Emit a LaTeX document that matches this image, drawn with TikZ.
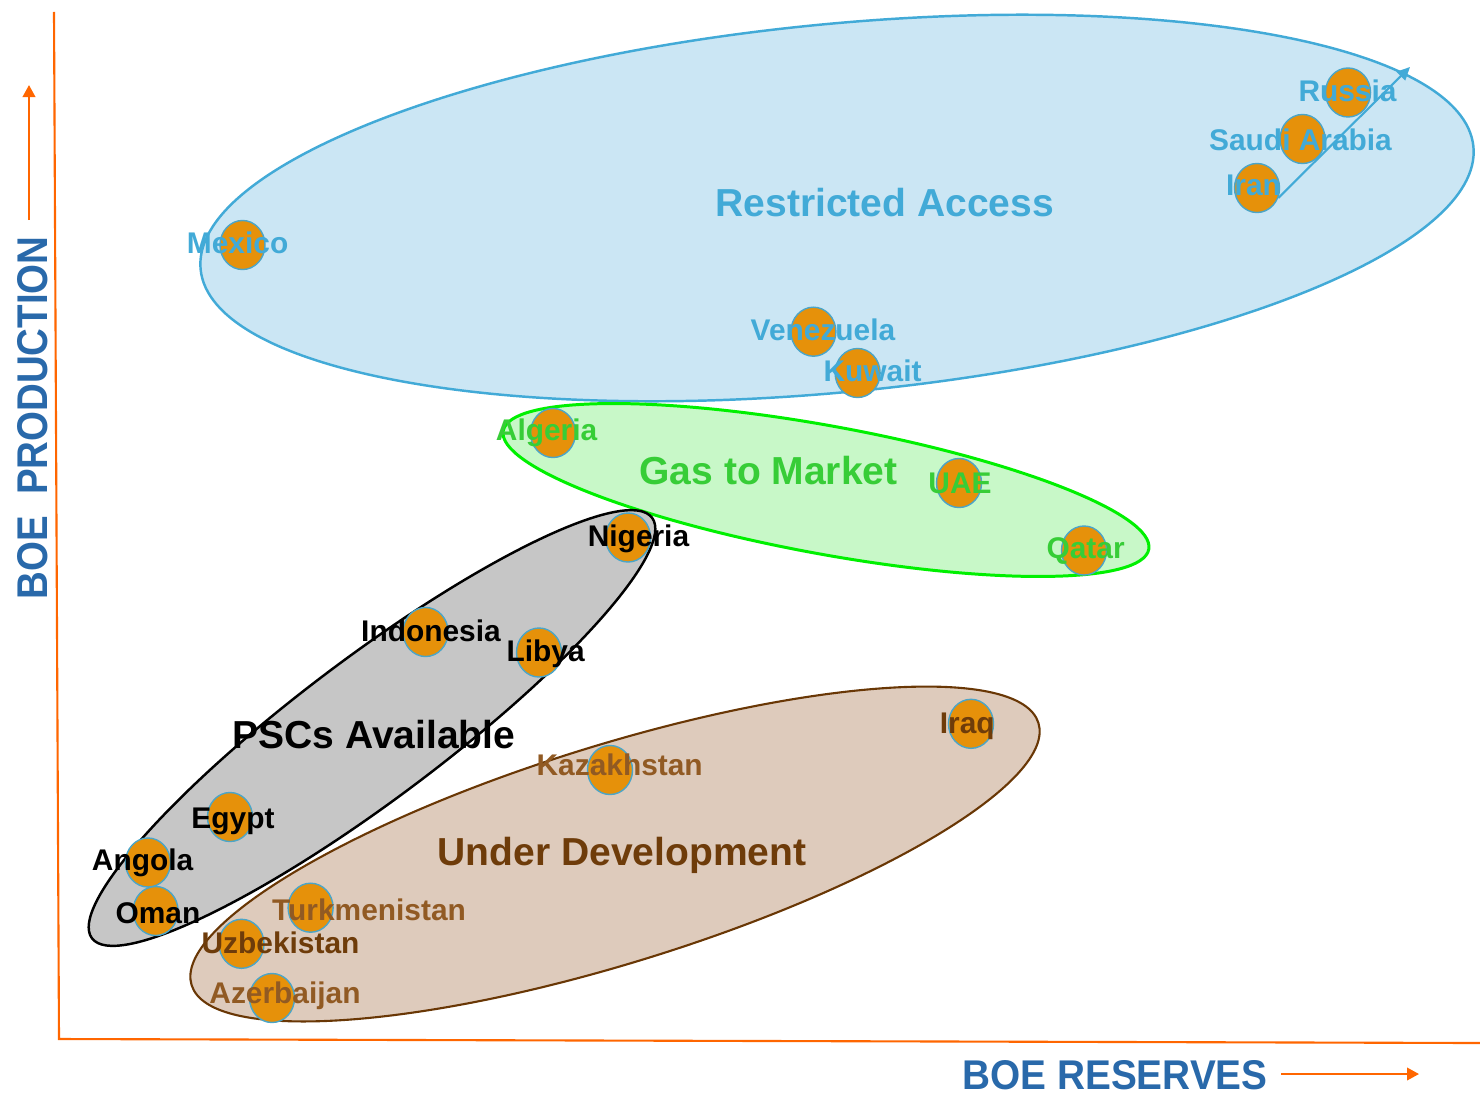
\documentclass[tikz,border=0pt]{standalone}
\usepackage{fontspec}
\setmainfont{Liberation Sans}
\usetikzlibrary{shapes.geometric,arrows.meta}
\definecolor{axisor}{RGB}{255,102,0}
\definecolor{axisblue}{RGB}{41,105,170}
\definecolor{rablue}{RGB}{66,170,215}
\definecolor{rafill}{RGB}{203,230,244}
\definecolor{gmline}{RGB}{0,240,0}
\definecolor{gmtext}{RGB}{55,205,55}
\definecolor{gmfill}{RGB}{200,248,200}
\definecolor{pscfill}{RGB}{198,198,198}
\definecolor{udline}{RGB}{105,55,5}
\definecolor{udtext}{RGB}{110,60,10}
\definecolor{udlight}{RGB}{145,90,35}
\definecolor{udfill}{RGB}{222,203,188}
\definecolor{dotfill}{RGB}{230,145,10}
\definecolor{dotline}{RGB}{75,165,200}
\begin{document}
\begin{tikzpicture}[x=0.01cm, y=-0.01cm,
  dot/.style={ellipse, draw=dotline, line width=0.4pt, fill=dotfill, minimum width=0.45cm, minimum height=0.49cm, inner sep=0pt},
  lab/.style={anchor=base, inner sep=0pt, font=\fontsize{8.5pt}{10pt}\selectfont\bfseries},
  ttl/.style={anchor=base, inner sep=0pt, font=\fontsize{11.1pt}{13pt}\selectfont\bfseries},
  axisline/.style={axisor, line width=0.6pt},
  axisarrow/.style={axisor, line width=0.6pt, -{Triangle[width=0.125cm,length=0.12cm]}},
  group/.style={line width=0.7pt}
]
\useasboundingbox (0,0) rectangle (1480,1094);

% group ellipses
\draw[group, draw=rablue, fill=rafill, rotate around={5.5:(837,208)}] (837,208) ellipse [x radius=6.39cm, y radius=1.84cm];
\draw[group, draw=gmline, line width=0.85pt, fill=gmfill, rotate around={-10.4:(826,490)}] (826,490) ellipse [x radius=3.28cm, y radius=0.64cm];
\draw[group, draw=udline, line width=0.6pt, fill=udfill, rotate around={17.2:(615,854)}] (615,854) ellipse [x radius=4.43cm, y radius=1.09cm];
\draw[group, draw=black, fill=pscfill, rotate around={36.9:(372,728)}] (372,728) ellipse [x radius=3.50cm, y radius=0.71cm];

% country dots
\node[dot] (c-russia) at (1348,92.5) {};
\node[dot] (c-saudi) at (1302.5,139) {};
\node[dot] (c-iran) at (1257,188) {};
\node[dot] (c-mexico) at (242.5,245) {};
\node[dot] (c-venezuela) at (813.4,331.7) {};
\node[dot] (c-kuwait) at (857.6,373) {};
\node[dot] (c-algeria) at (553,433) {};
\node[dot] (c-uae) at (959,483) {};
\node[dot] (c-qatar) at (1084,550.5) {};
\node[dot] (c-nigeria) at (628,537.5) {};
\node[dot] (c-indonesia) at (425.6,632) {};
\node[dot] (c-libya) at (539,652.5) {};
\node[dot] (c-egypt) at (230,817) {};
\node[dot] (c-angola) at (148,862.5) {};
\node[dot] (c-oman) at (155.6,911) {};
\node[dot] (c-turkmenistan) at (310.6,907.7) {};
\node[dot] (c-uzbekistan) at (241.5,943.8) {};
\node[dot] (c-azerbaijan) at (272,998) {};
\node[dot] (c-kazakhstan) at (610,770) {};
\node[dot] (c-iraq) at (971,723.8) {};

% arrow in restricted access
\coordinate (ra-tip) at (1410,67);
\draw[rablue, line width=0.6pt, -{Triangle[width=0.12cm,length=0.13cm]}] (c-iran.-25) -- (ra-tip);

% labels
\node[lab, text=rablue] (l-russia) at (1347.5,101.7) {Russia};
\node[lab, text=rablue] (l-saudi) at (1300.5,150) {Saudi Arabia};
\node[lab, text=rablue] (l-iran) at (1253.5,195.7) {Iran};
\node[lab, text=rablue] (l-mexico) at (237.6,253.3) {Mexico};
\node[lab, text=rablue] (l-venezuela) at (823,340) {Venezuela};
\node[lab, text=rablue] (l-kuwait) at (872.5,381.7) {Kuwait};
\node[lab, text=gmtext] (l-algeria) at (546.6,440) {Algeria};
\node[lab, text=gmtext] (l-uae) at (960,493) {UAE};
\node[lab, text=gmtext] (l-qatar) at (1085.6,558) {Qatar};
\node[lab] (l-nigeria) at (638.5,546.7) {Nigeria};
\node[lab] (l-indonesia) at (431,641.7) {Indonesia};
\node[lab] (l-libya) at (545.6,661) {Libya};
\node[lab] (l-egypt) at (233,828.3) {Egypt};
\node[lab] (l-angola) at (142.6,870) {Angola};
\node[lab] (l-oman) at (158,923.3) {Oman};
\node[lab, text=udlight] (l-turkmenistan) at (369,920.7) {Turkmenistan};
\node[lab, text=udtext] (l-uzbekistan) at (280.5,953.3) {Uzbekistan};
\node[lab, text=udlight] (l-azerbaijan) at (285,1003.3) {Azerbaijan};
\node[lab, text=udlight] (l-kazakhstan) at (619.7,775) {Kazakhstan};
\node[lab, text=udtext] (l-iraq) at (967.3,733.3) {Iraq};

% group titles
\node[ttl, text=rablue] (t-ra) at (884.7,216.7) {Restricted Access};
\node[ttl, text=gmtext] (t-gm) at (768.5,484.3) {Gas to Market};
\node[ttl] (t-psc) at (374,748.3) {PSCs Available};
\node[ttl, text=udtext] (t-ud) at (622,865) {Under Development};

% axes
\coordinate (ax-top) at (54,12);
\coordinate (ax-corner) at (59,1039);
\coordinate (ax-right) at (1480,1043);
\draw[axisline] (ax-top) -- (ax-corner) -- (ax-right);
\coordinate (ya-s) at (29,220);
\coordinate (ya-e) at (29,85);
\draw[axisarrow] (ya-s) -- (ya-e);
\coordinate (xa-s) at (1281,1074);
\coordinate (xa-e) at (1419,1074);
\draw[axisarrow] (xa-s) -- (xa-e);

\node[anchor=base, inner sep=0pt, text=axisblue, font=\bfseries] (x-label) at (1115,1089) {\resizebox{3.05cm}{0.29cm}{BOE RESERVES}};
\node[anchor=base, inner sep=0pt, rotate=90, text=axisblue, font=\bfseries] (y-label) at (47,418) {\resizebox{3.63cm}{0.30cm}{BOE~~PRODUCTION}};
\end{tikzpicture}
\end{document}
